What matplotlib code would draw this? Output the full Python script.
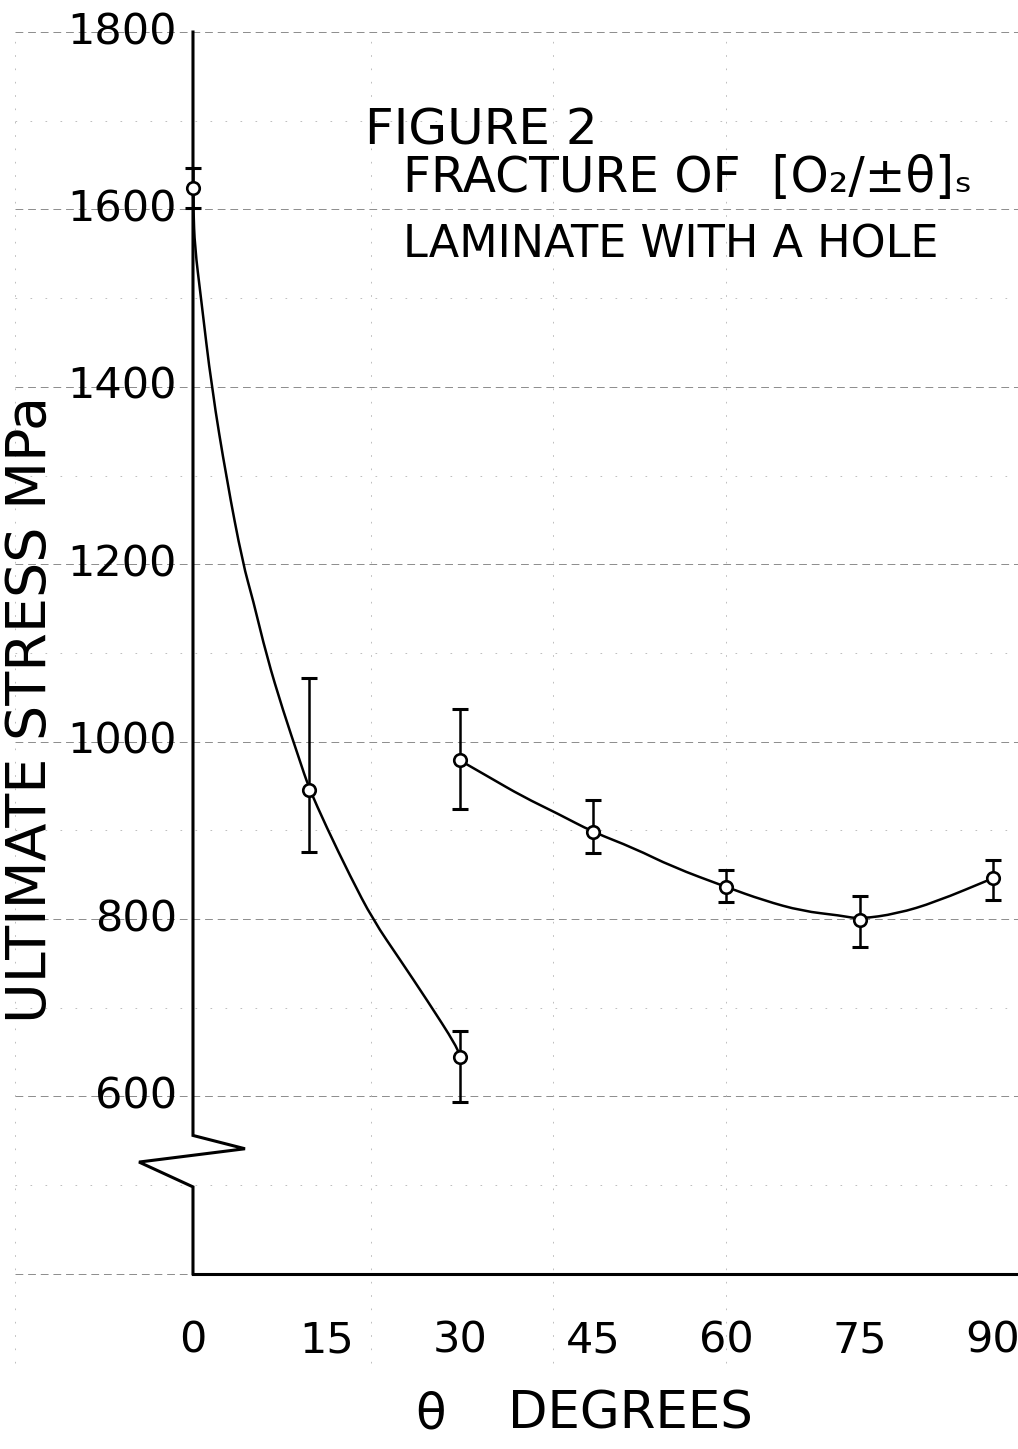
import numpy as np
import matplotlib
matplotlib.use("Agg")
import matplotlib.pyplot as plt
from matplotlib.path import Path
from matplotlib.patches import PathPatch

# measured points (theta in degrees, stress in MPa)
theta = [0, 13, 30, 30, 45, 60, 75, 90]
stress = [1624, 945, 644, 979, 898, 836, 799, 846]
err_hi = [1647, 1072, 674, 1037, 934, 855, 826, 867]
err_lo = [1602, 875, 594, 924, 874, 819, 768, 821]

# hand drawn curves
left_x = [0, 0.05, 0.2, 0.9, 2.1, 3.8, 5.6, 6.75, 8.3, 10.1, 12.0, 13.0, 15.0, 17.7, 20.25, 23.3, 26.3, 29.7, 30]
left_y = [1624, 1600, 1558, 1500, 1399, 1295, 1201, 1160, 1096, 1036, 979, 949, 904, 848, 799, 754, 709, 656, 644]
right_x = [30, 33.3, 37.1, 41.0, 45, 49.6, 53.9, 60, 64.2, 68.5, 72.8, 75, 79.2, 83.5, 90]
right_y = [979, 960, 938, 919, 898, 880, 859, 836, 821, 809, 804, 800, 806, 819, 846]

# axis break on the stress axis
break_x = [0, 0, 5.85, -6.07, 0, 0]
break_y = [1800, 556, 541, 526, 498, 400]

yticks = [1800, 1600, 1400, 1200, 1000, 800, 600]
xticks = [0, 15, 30, 45, 60, 75, 90]


def smooth_curve(ax, xs, ys, **kw):
    # quadratic bezier through the midpoints, the read points act as controls
    pts = list(zip(xs, ys))
    verts = [pts[0]]
    codes = [Path.MOVETO]
    for i in range(1, len(pts) - 1):
        mid = ((pts[i][0] + pts[i + 1][0]) / 2, (pts[i][1] + pts[i + 1][1]) / 2)
        verts += [pts[i], mid]
        codes += [Path.CURVE3, Path.CURVE3]
    verts.append(pts[-1])
    codes.append(Path.LINETO)
    ax.add_patch(PathPatch(Path(verts, codes), fill=False, **kw))


fig = plt.figure(figsize=(10.18, 14.49), dpi=100)
ax = fig.add_axes([0, 0, 1, 1])
ax.set_xlim(-21.71, 92.81)
ax.set_ylim(202.5, 1836.1)
ax.axis("off")

# graph paper left-overs
for v in range(400, 1801, 100):
    if v % 200 == 0:
        ax.plot([-20, 92.81], [v, v], color="0.55", lw=0.7, ls=(0, (8, 5)), zorder=1)
    else:
        ax.plot([-20, 92.81], [v, v], color="0.7", lw=0.6, ls=(0, (2, 16)), zorder=1)
for g in [-20, 20, 40.5, 60]:
    ax.plot([g, g], [300, 1800], color="0.7", lw=0.6, ls=(0, (2, 14)), zorder=1)

# axes
ax.plot(break_x, break_y, color="black", lw=2.2, solid_joinstyle="miter", zorder=3)
ax.plot([0, 92.81], [400, 400], color="black", lw=2.2, zorder=3)

# curves
smooth_curve(ax, left_x, left_y, edgecolor="black", lw=1.8, zorder=4)
smooth_curve(ax, right_x, right_y, edgecolor="black", lw=1.8, zorder=4)

lo = np.array(stress) - np.array(err_lo)
hi = np.array(err_hi) - np.array(stress)
ax.errorbar(theta, stress, yerr=[lo, hi], fmt="none", ecolor="black",
            elinewidth=1.8, capsize=6, capthick=2.2, zorder=5)
ax.plot(theta, stress, "o", ms=9, mfc="white", mec="black", mew=1.9, zorder=6)

# tick labels
for v in yticks:
    ax.text(-1.8, v, str(v), ha="right", va="center", fontsize=31)
for t in xticks:
    ax.text(t, 325, str(t), ha="center", va="center", fontsize=31)

ax.text(26.7, 241, "θ", ha="center", va="center", fontsize=36)
ax.text(49.2, 241, "DEGREES", ha="center", va="center", fontsize=37)

ax.text(-18.3, 1036, "ULTIMATE STRESS MPa", rotation=90, ha="center", va="center",
        fontsize=40)

ax.text(19.35, 1689, "FIGURE 2", ha="left", va="center", fontsize=36)
ax.text(23.6, 1635, "FRACTURE OF  [O₂/±θ]ₛ", ha="left", va="center", fontsize=35)
ax.text(23.6, 1560, "LAMINATE WITH A HOLE", ha="left", va="center", fontsize=32)

fig.savefig("out.png", dpi=100, facecolor="white")
